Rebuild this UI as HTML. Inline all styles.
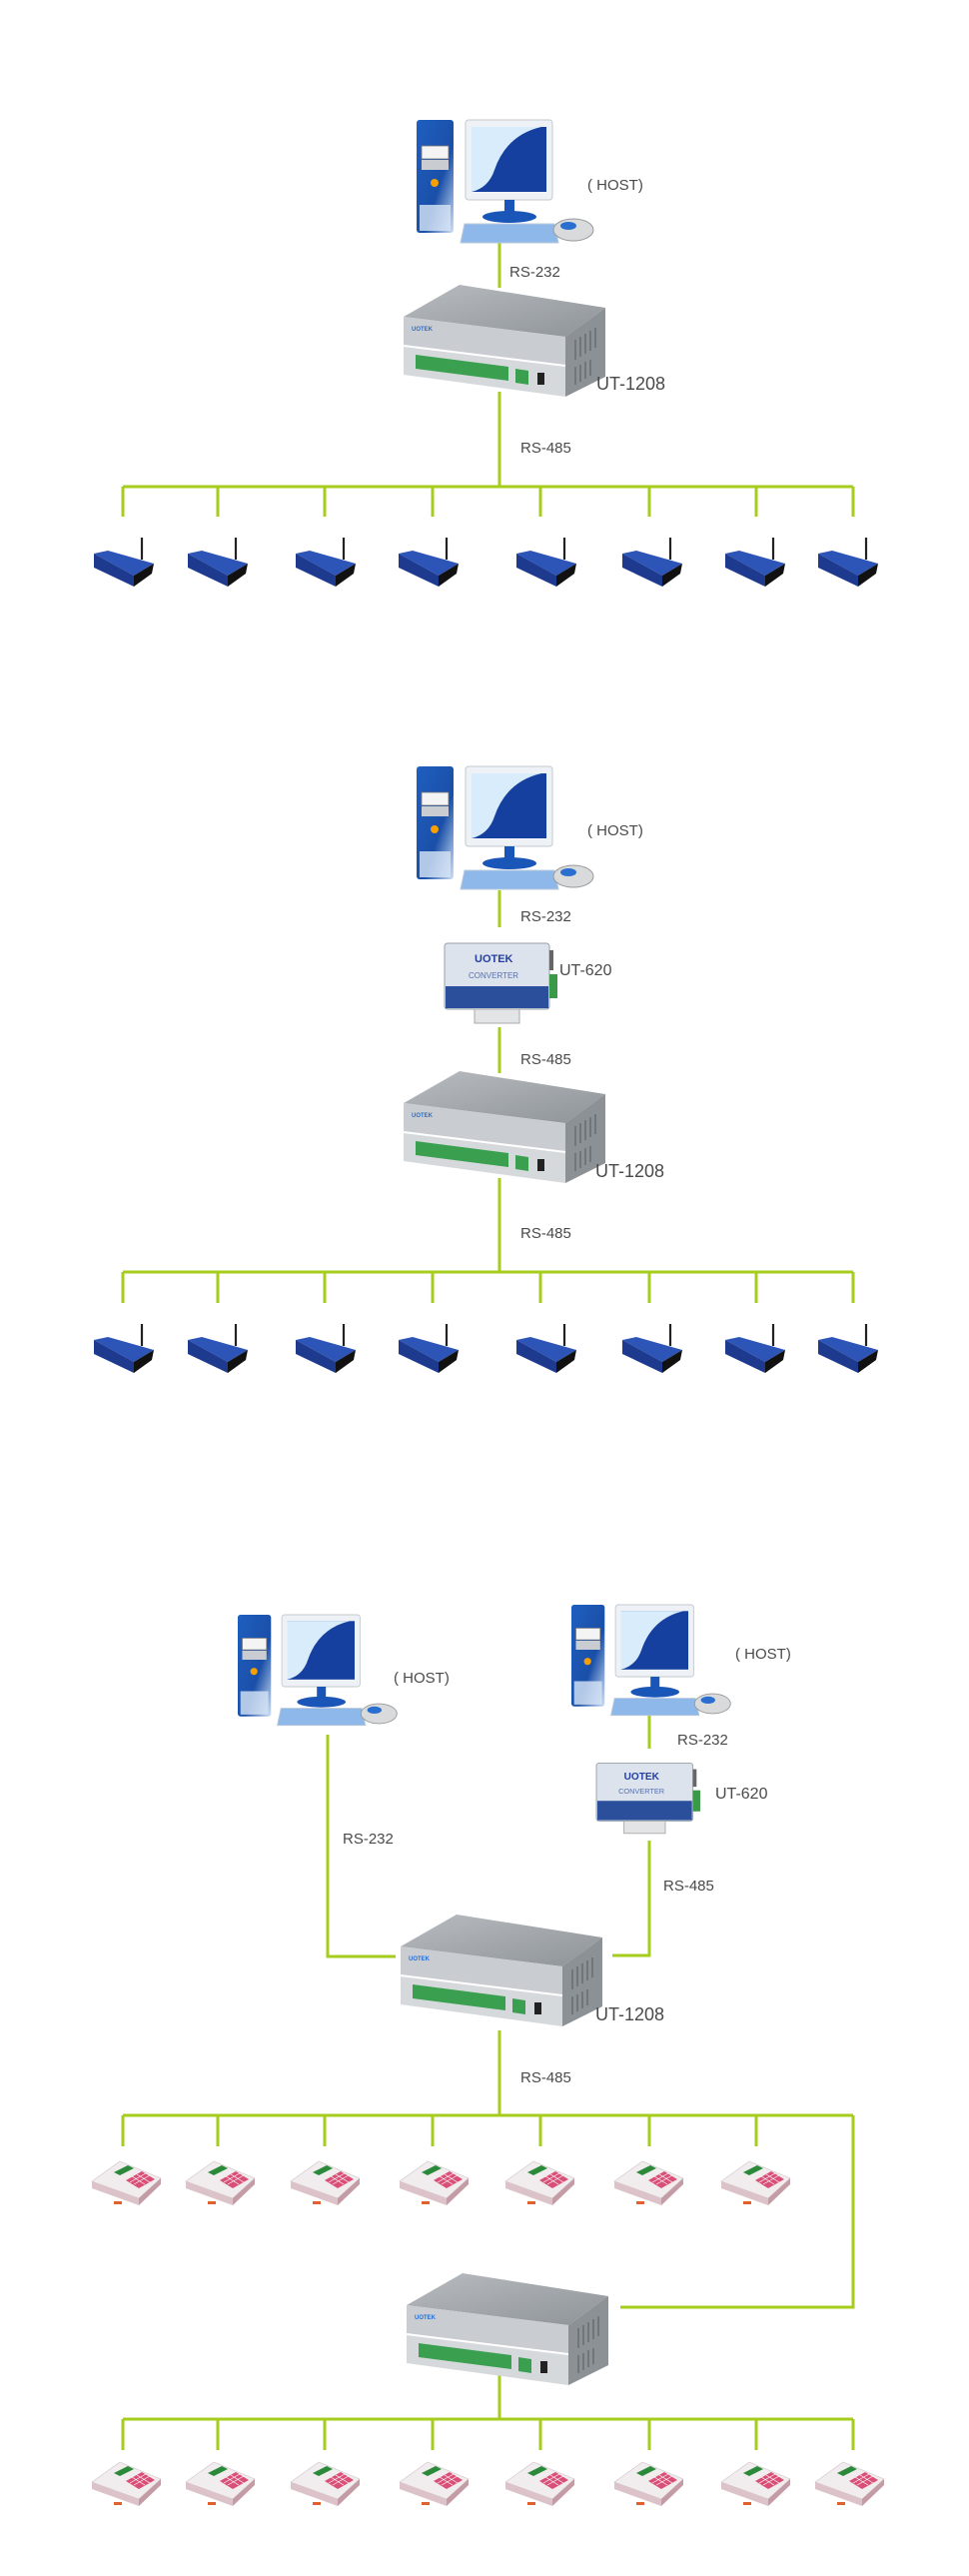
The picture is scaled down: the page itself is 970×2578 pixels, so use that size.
<!DOCTYPE html>
<html><head><meta charset="utf-8"><style>
html,body{margin:0;padding:0;background:#fff;}
svg{display:block;}
text{font-family:"Liberation Sans",sans-serif;fill:#4a4a4a;}
</style></head><body>
<svg width="970" height="2578" viewBox="0 0 970 2578" xmlns="http://www.w3.org/2000/svg">
<defs>
<linearGradient id="tw" x1="0" y1="0" x2="1" y2="1"><stop offset="0" stop-color="#1f5fc0"/><stop offset="0.6" stop-color="#1a4fa8"/><stop offset="1" stop-color="#cfe0f5"/></linearGradient>
<linearGradient id="ht" x1="0" y1="0" x2="1" y2="1"><stop offset="0" stop-color="#b8bcc0"/><stop offset="1" stop-color="#8f9499"/></linearGradient>
<g id="pc">
  <rect x="0" y="0" width="37" height="113" rx="3" fill="url(#tw)"/>
  <rect x="3" y="85" width="31" height="26" fill="#d8e6f6" opacity="0.8"/>
  <rect x="5" y="26" width="27" height="13" fill="#f4f4f4" stroke="#777" stroke-width="0.8"/>
  <rect x="5" y="40" width="27" height="10" fill="#c9cdd2"/>
  <circle cx="18" cy="63" r="4" fill="#f5a000"/>
  <rect x="49" y="0" width="87" height="80" rx="3" fill="#eef2f6" stroke="#c3c9cf"/>
  <rect x="55" y="7" width="75" height="65" fill="#1540a0"/>
  <path d="M55 7 H125 Q90 15 78 50 Q72 68 55 72 Z" fill="#d9ecfb"/>
  <rect x="88" y="80" width="10" height="14" fill="#1a55b8"/>
  <ellipse cx="93" cy="97" rx="27" ry="6" fill="#1a55b8"/>
  <polygon points="48,104 138,104 142,123 44,123" fill="#8fb8ea" stroke="#b8c8da"/>
  <ellipse cx="157" cy="110" rx="20" ry="11" fill="#d8dadc" stroke="#999"/>
  <ellipse cx="152" cy="106" rx="8" ry="4" fill="#2a6fd0"/>
</g>
<g id="hub">
  <polygon points="56,0 202,23 162,52 0,32" fill="url(#ht)"/>
  <polygon points="0,32 162,52 162,80 0,60" fill="#c9cdd1"/>
  <polygon points="0,62 162,82 162,112 0,90" fill="#d6d9dc"/>
  <polygon points="162,52 202,23 202,92 162,112" fill="#8c9196"/>
  <g stroke="#5f6468" stroke-width="1.2">
    <line x1="172" y1="55" x2="172" y2="75"/><line x1="177" y1="52" x2="177" y2="72"/><line x1="182" y1="49" x2="182" y2="69"/><line x1="187" y1="46" x2="187" y2="66"/><line x1="192" y1="43" x2="192" y2="63"/>
    <line x1="172" y1="82" x2="172" y2="100"/><line x1="177" y1="80" x2="177" y2="97"/><line x1="182" y1="77" x2="182" y2="94"/><line x1="187" y1="75" x2="187" y2="91"/>
  </g>
  <polygon points="12,70 105,82 105,96 12,84" fill="#3aa050"/>
  <polygon points="112,84 125,86 125,100 112,98" fill="#3aa050"/>
  <rect x="134" y="88" width="7" height="12" fill="#222"/>
  <text x="8" y="46" font-size="6" font-weight="bold" style="fill:#2a6fd0">UOTEK</text>
</g>
<g id="conv">
  <rect x="0" y="5" width="105" height="66" rx="3" fill="#dde3ec" stroke="#98a0aa"/>
  <rect x="1" y="48" width="103" height="22" fill="#2b4f9a"/>
  <text x="30" y="24" font-size="11" font-weight="bold" style="fill:#2540a0">UOTEK</text>
  <text x="24" y="40" font-size="8" style="fill:#5570b0">CONVERTER</text>
  <rect x="30" y="71" width="45" height="14" fill="#e2e4e6" stroke="#aaa"/>
  <rect x="105" y="36" width="8" height="24" fill="#3a9a48"/>
  <rect x="105" y="12" width="4" height="20" fill="#666"/>
</g>
<g id="rt">
  <line x1="48" y1="0" x2="48" y2="22" stroke="#222" stroke-width="2.2"/>
  <polygon points="0,16 14,13 60,26 40,38" fill="#2d55b8"/>
  <polygon points="0,16 40,38 40,49 0,30" fill="#1d3a8e"/>
  <polygon points="40,38 60,26 58,36 40,49" fill="#111"/>
</g>
<g id="pr">
  <polygon points="0,23 28,3 69,20 47,40" fill="#f1eced" stroke="#cfc5c8" stroke-width="0.6"/>
  <polygon points="0,23 47,40 47,47 0,30" fill="#dcc3c9"/>
  <polygon points="47,40 69,20 69,26 47,47" fill="#c49ca6"/>
  <polygon points="34,22 50,13 63,21 47,30" fill="#d94f77"/>
  <g stroke="#fff" stroke-width="0.7"><line x1="38" y1="24" x2="54" y2="15"/><line x1="42" y1="26" x2="58" y2="17"/><line x1="40" y1="18" x2="53" y2="26"/><line x1="45" y1="16" x2="58" y2="24"/></g>
  <polygon points="22,14 36,7 42,10 28,17" fill="#2a8a3a"/>
  <rect x="22" y="43" width="8" height="3" fill="#e06030"/>
</g>
</defs>

<g stroke="#a6cd1e" stroke-width="3" fill="none">
  <!-- section 1 -->
  <line x1="500" y1="243" x2="500" y2="288"/>
  <line x1="500" y1="392" x2="500" y2="487"/>
  <line x1="123" y1="487" x2="854" y2="487"/>
  <path d="M123 487V517M218 487V517M325 487V517M433 487V517M541 487V517M650 487V517M757 487V517M854 487V517"/>
  <!-- section 2 -->
  <line x1="500" y1="891" x2="500" y2="928"/>
  <line x1="500" y1="1028" x2="500" y2="1074"/>
  <line x1="500" y1="1179" x2="500" y2="1273"/>
  <line x1="123" y1="1273" x2="854" y2="1273"/>
  <path d="M123 1273V1304M218 1273V1304M325 1273V1304M433 1273V1304M541 1273V1304M650 1273V1304M757 1273V1304M854 1273V1304"/>
  <!-- section 3 -->
  <polyline points="328,1736 328,1958 396,1958"/>
  <line x1="650" y1="1714" x2="650" y2="1750"/>
  <polyline points="650,1842 650,1957 613,1957"/>
  <line x1="500" y1="2032" x2="500" y2="2117"/>
  <line x1="123" y1="2117" x2="854" y2="2117"/>
  <path d="M123 2117V2148M218 2117V2148M325 2117V2148M433 2117V2148M541 2117V2148M650 2117V2148M757 2117V2148"/>
  <polyline points="854,2117 854,2309 621,2309"/>
  <line x1="500" y1="2376" x2="500" y2="2421"/>
  <line x1="123" y1="2421" x2="854" y2="2421"/>
  <path d="M123 2421V2452M218 2421V2452M325 2421V2452M433 2421V2452M541 2421V2452M650 2421V2452M757 2421V2452M854 2421V2452"/>
</g>

<!-- devices section 1 -->
<use href="#pc" x="417" y="120"/>
<use href="#hub" x="404" y="285"/>
<use href="#rt" x="94" y="538"/><use href="#rt" x="188" y="538"/><use href="#rt" x="296" y="538"/><use href="#rt" x="399" y="538"/>
<use href="#rt" x="517" y="538"/><use href="#rt" x="623" y="538"/><use href="#rt" x="726" y="538"/><use href="#rt" x="819" y="538"/>

<!-- section 2 -->
<use href="#pc" x="417" y="767"/>
<use href="#conv" x="445" y="939"/>
<use href="#hub" x="404" y="1072"/>
<use href="#rt" x="94" y="1325"/><use href="#rt" x="188" y="1325"/><use href="#rt" x="296" y="1325"/><use href="#rt" x="399" y="1325"/>
<use href="#rt" x="517" y="1325"/><use href="#rt" x="623" y="1325"/><use href="#rt" x="726" y="1325"/><use href="#rt" x="819" y="1325"/>

<!-- section 3 -->
<use href="#pc" transform="translate(238,1616) scale(0.9)"/>
<use href="#pc" transform="translate(572,1606) scale(0.9)"/>
<use href="#conv" transform="translate(597,1760) scale(0.92,0.88)"/>
<use href="#hub" x="401" y="1916"/>
<use href="#hub" x="407" y="2275"/>
<use href="#pr" x="92" y="2160"/><use href="#pr" x="186" y="2160"/><use href="#pr" x="291" y="2160"/><use href="#pr" x="400" y="2160"/>
<use href="#pr" x="506" y="2160"/><use href="#pr" x="615" y="2160"/><use href="#pr" x="722" y="2160"/>
<use href="#pr" x="92" y="2461"/><use href="#pr" x="186" y="2461"/><use href="#pr" x="291" y="2461"/><use href="#pr" x="400" y="2461"/>
<use href="#pr" x="506" y="2461"/><use href="#pr" x="615" y="2461"/><use href="#pr" x="722" y="2461"/><use href="#pr" x="816" y="2461"/>

<!-- labels -->
<g font-size="15">
<text x="588" y="190">( HOST)</text>
<text x="510" y="277">RS-232</text>
<text x="521" y="453">RS-485</text>
<text x="588" y="836">( HOST)</text>
<text x="521" y="922">RS-232</text>
<text x="521" y="1065">RS-485</text>
<text x="521" y="1239">RS-485</text>
<text x="394" y="1684">( HOST)</text>
<text x="736" y="1660">( HOST)</text>
<text x="343" y="1845">RS-232</text>
<text x="678" y="1746">RS-232</text>
<text x="664" y="1892">RS-485</text>
<text x="521" y="2084">RS-485</text>
</g>
<g font-size="18">
<text x="597" y="390">UT-1208</text>
<text x="560" y="976" font-size="16">UT-620</text>
<text x="596" y="1178">UT-1208</text>
<text x="716" y="1800" font-size="16">UT-620</text>
<text x="596" y="2022">UT-1208</text>
</g>
</svg>
</body></html>
